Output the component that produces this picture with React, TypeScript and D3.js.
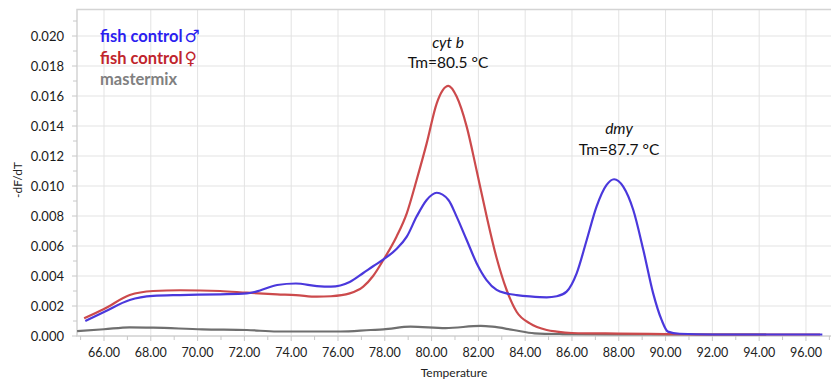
import React from "react";
import * as d3 from "d3";

const maleT = [65.2, 66.0, 67.1, 68.1, 69.25, 70.96, 72.1, 72.5, 73.4, 74.2, 75.1, 75.7, 76.5, 77.08, 77.5, 77.94, 78.5, 78.94, 79.36, 79.79, 80.22, 80.72, 81.07, 81.5, 81.93, 82.35, 82.78, 83.2, 83.64, 84.2, 84.92, 85.35, 85.77, 86.2, 86.63, 87.05, 87.48, 87.8, 88.19, 88.62, 89.05, 89.47, 89.83, 90.1, 90.6, 92, 94, 96.7];
const maleV = [0.001, 0.0016, 0.0024, 0.00267, 0.00273, 0.00278, 0.00284, 0.00296, 0.0034, 0.0035, 0.00333, 0.00329, 0.0036, 0.0042, 0.00465, 0.0051, 0.0058, 0.00662, 0.00796, 0.00907, 0.00955, 0.00907, 0.00796, 0.0064, 0.00484, 0.00373, 0.00307, 0.00284, 0.00273, 0.00264, 0.00258, 0.00265, 0.00296, 0.00418, 0.0064, 0.00862, 0.01007, 0.01045, 0.00996, 0.0084, 0.00573, 0.00284, 0.00107, 0.00029, 0.00015, 0.0001, 0.0001, 0.0001];

const femaleT = [65.15, 66, 67.1, 68.1, 69.25, 70.96, 72.1, 73.4, 74.2, 75.1, 75.7, 76.5, 77.08, 77.5, 77.94, 78.5, 78.94, 79.36, 79.79, 80.22, 80.72, 81.07, 81.5, 81.93, 82.35, 82.78, 83.2, 83.64, 84.2, 84.92, 85.35, 86, 88, 90, 92, 94, 96.6];
const femaleV = [0.00118, 0.0018, 0.00273, 0.003, 0.00305, 0.003, 0.00289, 0.00278, 0.00273, 0.00262, 0.00265, 0.00284, 0.00329, 0.004, 0.00507, 0.00662, 0.00818, 0.0104, 0.01284, 0.01551, 0.01667, 0.01596, 0.01396, 0.011, 0.008, 0.0052, 0.0031, 0.0016, 0.00084, 0.0004, 0.00029, 0.0002, 0.00016, 0.00013, 0.0001, 0.0001, 0.0001];

const mixT = [64.85, 66, 67.1, 68.1, 70.2, 72.1, 73.4, 76.1, 77.4, 77.94, 79.1, 80.6, 82.1, 82.6, 83.5, 84.4, 85.6, 88, 91, 94.3];
const mixV = [0.00033, 0.00045, 0.00058, 0.00056, 0.00044, 0.0004, 0.0003, 0.0003, 0.0004, 0.00044, 0.00062, 0.00053, 0.00067, 0.00062, 0.0004, 0.00018, 0.00013, 0.0001, 0.0001, 0.0001];

const xTicks = [66, 68, 70, 72, 74, 76, 78, 80, 82, 84, 86, 88, 90, 92, 94, 96];
const xMinor = [65, 67, 69, 71, 73, 75, 77, 79, 81, 83, 85, 87, 89, 91, 93, 95, 97];
const yTicks = [0, 0.002, 0.004, 0.006, 0.008, 0.01, 0.012, 0.014, 0.016, 0.018, 0.02];
const yMinor = [0.001, 0.003, 0.005, 0.007, 0.009, 0.011, 0.013, 0.015, 0.017, 0.019, 0.021];

const legend = [
  { label: "fish control", symbol: "\u2642", color: "#2b1ef0" },
  { label: "fish control", symbol: "\u2640", color: "#c0242c" },
  { label: "mastermix", symbol: "", color: "#808080" },
];

const left = 77, right = 831, top = 9.5, bottom = 336;

export default function App() {
  const x = d3.scaleLinear().domain([64.846, 97.07]).range([left, right]);
  const y = d3.scaleLinear().domain([0, (bottom - top) / 15000]).range([bottom, top]);
  const line = d3
    .line<[number, number]>()
    .x((d) => x(d[0]))
    .y((d) => y(d[1]))
    .curve(d3.curveMonotoneX);
  const zip = (a: number[], b: number[]) => a.map((t, i) => [t, b[i]] as [number, number]);
  const font = "Lato, 'Open Sans', sans-serif";

  return (
    <svg width={831} height={380} style={{ position: "absolute", left: 0, top: 0, background: "#fff" }}>
      <rect x={0} y={0} width={831} height={380} fill="#fff" />
      {xTicks.map((t) => (
        <line key={"gx" + t} x1={x(t)} x2={x(t)} y1={top} y2={bottom} stroke="#e3e3e3" strokeWidth={1} />
      ))}
      {yTicks.map((v) => (
        <line key={"gy" + v} x1={left} x2={right} y1={y(v)} y2={y(v)} stroke="#e3e3e3" strokeWidth={1} />
      ))}
      <rect x={left} y={top} width={right - left + 5} height={bottom - top} fill="none" stroke="#d4d4d4" strokeWidth={1.5} />
      {xTicks.map((t) => (
        <line key={"tx" + t} x1={x(t)} x2={x(t)} y1={bottom} y2={bottom + 5} stroke="#c8c8c8" />
      ))}
      {xMinor.map((t) => (
        <line key={"mx" + t} x1={x(t)} x2={x(t)} y1={bottom} y2={bottom + 4} stroke="#c8c8c8" />
      ))}
      {yMinor.map((v) => (
        <line key={"my" + v} x1={left - 4} x2={left} y1={y(v)} y2={y(v)} stroke="#c8c8c8" />
      ))}
      {yTicks.map((v) => (
        <line key={"ty" + v} x1={left - 5} x2={left} y1={y(v)} y2={y(v)} stroke="#c8c8c8" />
      ))}
      {xTicks.map((t) => (
        <text key={"lx" + t} x={x(t)} y={357} textAnchor="middle" fontFamily={font} fontSize={12.5} fill="#222">
          {d3.format(".2f")(t)}
        </text>
      ))}
      {yTicks.map((v) => (
        <text key={"ly" + v} x={64} y={y(v) + 4.5} textAnchor="end" fontFamily={font} fontSize={13} fill="#1a1a1a">
          {d3.format(".3f")(v)}
        </text>
      ))}
      <text x={454} y={377} textAnchor="middle" fontFamily={font} fontSize={12} fill="#222">Temperature</text>
      <text transform="translate(22,180) rotate(-90)" textAnchor="middle" fontFamily={font} fontSize={12} fill="#222">-dF/dT</text>
      <path d={line(zip(mixT, mixV)) || ""} fill="none" stroke="#6f6f6f" strokeWidth={2.2} />
      <path d={line(zip(femaleT, femaleV)) || ""} fill="none" stroke="#cc4a4c" strokeWidth={2.2} />
      <path d={line(zip(maleT, maleV)) || ""} fill="none" stroke="#4a38dc" strokeWidth={2.2} />
      {legend.map((l, i) => (
        <text key={l.label + i} x={100} y={42 + i * 21.5} fontFamily={font} fontWeight="bold" fontSize={16.5} fill={l.color}>
          {l.label}
          {l.symbol ? (
            <tspan dx={2} fontFamily="'DejaVu Sans', sans-serif" fontWeight="bold" fontSize={17}>
              {l.symbol}
            </tspan>
          ) : null}
        </text>
      ))}
      <text x={448} y={48} textAnchor="middle" fontFamily={font} fontStyle="italic" fontSize={15.5} fill="#111">cyt b</text>
      <text x={448} y={68} textAnchor="middle" fontFamily={font} fontSize={15.5} fill="#111">Tm=80.5 °C</text>
      <text x={619} y={134} textAnchor="middle" fontFamily={font} fontStyle="italic" fontSize={15.5} fill="#111">dmy</text>
      <text x={619} y={155} textAnchor="middle" fontFamily={font} fontSize={15.5} fill="#111">Tm=87.7 °C</text>
    </svg>
  );
}
